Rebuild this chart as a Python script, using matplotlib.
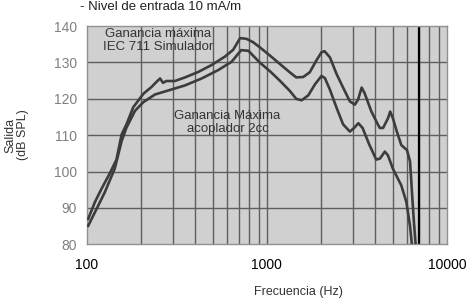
import matplotlib.pyplot as plt

plt.rcParams['font.family'] = ['Liberation Sans', 'DejaVu Sans']

# Ganancia máxima, IEC 711 simulador
f_iec = [101.7, 110.8, 120.7, 134, 146, 156, 166, 181, 206, 229, 244, 255, 265, 276,
         308, 351, 416, 493, 584, 650, 710, 770, 837, 912, 1040, 1180, 1340, 1456,
         1590, 1730, 1880, 2010, 2090, 2240, 2440, 2650, 2890, 3080, 3210, 3360,
         3480, 3800, 4150, 4240, 4420, 4710, 4840, 5010, 5270, 5580, 6000, 6240,
         6430, 6560, 6700]
g_iec = [87.0, 91.6, 95.3, 99.5, 103.3, 110.2, 113.0, 117.7, 121.4, 123.3, 124.7,
         125.6, 124.4, 124.9, 124.9, 125.9, 127.4, 129.3, 131.6, 133.5, 136.7, 136.5,
         135.6, 134.2, 131.9, 129.6, 127.3, 125.9, 126.0, 127.3, 130.5, 132.8, 133.1,
         131.4, 126.8, 123.1, 119.3, 118.4, 119.8, 123.1, 121.7, 116.6, 112.8, 112.0,
         112.0, 114.7, 116.5, 114.7, 111.0, 107.3, 105.9, 102.8, 92.5, 86.0, 80.0]

# Ganancia máxima, acoplador 2cc
f_2cc = [101.7, 110.8, 126, 143, 156, 166, 185, 206, 239, 283, 351, 434, 536, 637,
         720, 790, 912, 1040, 1180, 1340, 1456, 1560, 1700, 1850, 2010, 2100, 2240,
         2440, 2650, 2890, 3050, 3220, 3400, 3700, 4050, 4250, 4520, 4700, 5010,
         5580, 5950, 6240, 6390]
g_2cc = [85.1, 88.8, 94.4, 100.9, 108.4, 112.1, 116.7, 119.1, 121.2, 122.3, 123.7,
         125.6, 127.9, 130.2, 133.4, 133.2, 130.0, 127.6, 125.0, 122.2, 120.0, 119.6,
         121.0, 124.0, 126.3, 125.7, 122.5, 117.5, 113.0, 111.0, 112.0, 113.3, 112.0,
         107.5, 103.3, 103.6, 105.5, 104.5, 100.8, 96.2, 91.7, 85.0, 80.0]

x_ticks = [100, 1000, 10000]
y_ticks = [80, 90, 100, 110, 120, 130, 140]

fig = plt.figure(figsize=(4.67, 3.07), dpi=100)
ax = fig.add_axes([0.186, 0.204, 0.771, 0.711])
ax.set_facecolor("#d0d0d0")

ax.set_xscale("log")
ax.set_xlim(100, 10000)
ax.set_ylim(80, 140)

# grid: every 100/1000 step, plus the heavy line at 7 kHz
minor = [m * d for d in (100, 1000) for m in range(2, 10)]
for x in minor + [1000]:
    ax.axvline(x, color="#5e5e5e", lw=1.0, zorder=1)
for y in y_ticks[1:-1]:
    ax.axhline(y, color="#5e5e5e", lw=1.0, zorder=1)
ax.axvline(7000, color="black", lw=1.6, zorder=2)

ax.plot(f_iec, g_iec, color="#3c3c3c", lw=1.9, zorder=3, solid_joinstyle="round")
ax.plot(f_2cc, g_2cc, color="#3c3c3c", lw=1.9, zorder=3, solid_joinstyle="round")

ax.set_xticks(x_ticks)
ax.set_xticklabels([str(t) for t in x_ticks], fontsize=10, color="black")
ax.set_xticks([], minor=True)
ax.set_yticks(y_ticks)
ax.set_yticklabels([str(t) for t in y_ticks], fontsize=10, color="#808080")
ax.tick_params(axis="both", length=0)
ax.tick_params(axis="x", pad=10)
ax.tick_params(axis="y", pad=7)
for s in ax.spines.values():
    s.set_color("#909090")
    s.set_linewidth(1.0)

ax.text(250, 139.6, "Ganancia máxima\nIEC 711 Simulador", ha="center", va="top",
        fontsize=9.5, color="#333333", linespacing=1.15, zorder=4)
ax.text(605, 113.5, "Ganancia Máxima\nacoplador 2cc", ha="center", va="center",
        fontsize=9.5, color="#333333", linespacing=1.15, zorder=4)

fig.text(0.171, 0.977, "- Nivel de entrada 10 mA/m", ha="left", va="center",
         fontsize=9.5, color="#222222")
fig.text(0.64, 0.048, "Frecuencia (Hz)", ha="center", va="center",
         fontsize=9, color="#333333")
fig.text(0.036, 0.56, "Salida\n(dB SPL)", ha="center", va="center",
         rotation=90, fontsize=9, color="#333333", linespacing=1.1)

fig.savefig("out.png", dpi=100)
